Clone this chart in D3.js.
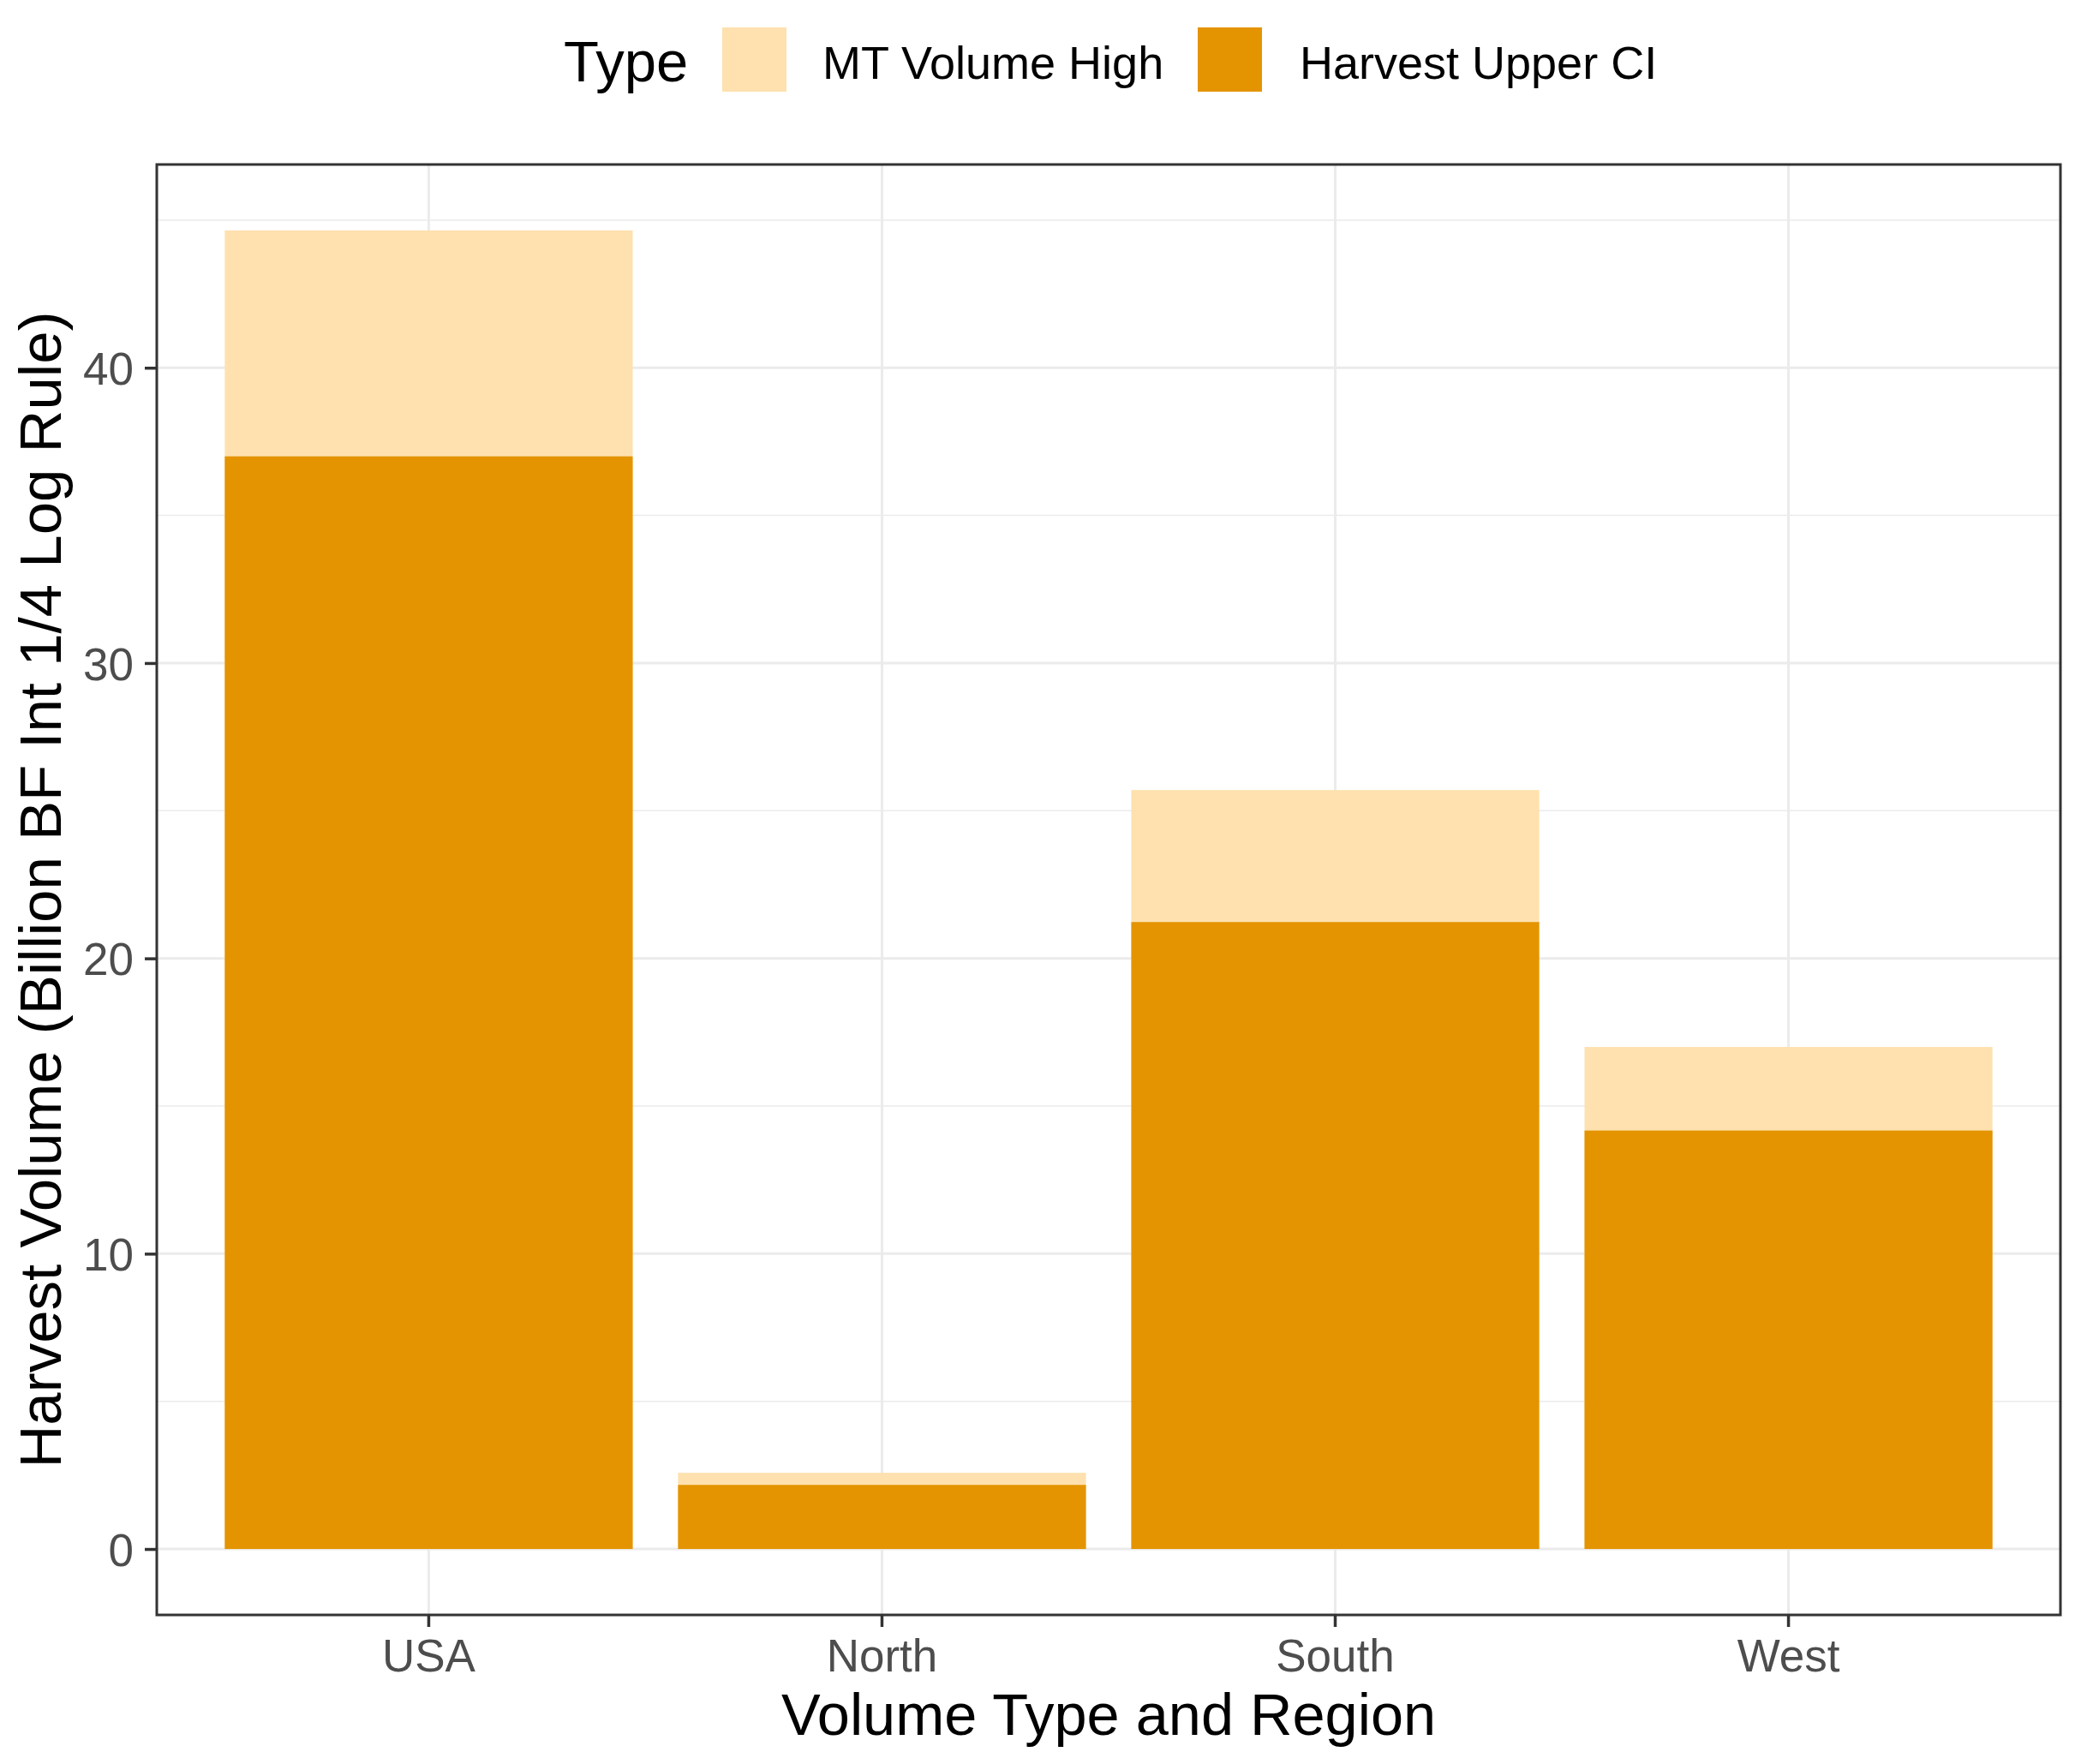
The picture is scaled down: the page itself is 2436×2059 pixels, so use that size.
<!DOCTYPE html>
<html>
<head>
<meta charset="utf-8">
<script src="https://cdn.jsdelivr.net/npm/d3@7"></script>
<style>
  html, body { margin: 0; padding: 0; background: #fff; }
  svg { display: block; font-family: "Liberation Sans", Arial, sans-serif; }
</style>
</head>
<body>
<svg id="chart" width="2436" height="2059"></svg>
<script>
// ---- data ----
const categories = ["USA", "North", "South", "West"];
const mtVolumeHigh = [44.65, 2.58, 25.7, 17.0];
const harvestUpperCI = [37.0, 2.17, 21.23, 14.17];
const seriesNames = ["MT Volume High", "Harvest Upper CI"];
const seriesColors = ["#FEE1AF", "#E49400"];
const yTicks = [0, 10, 20, 30, 40];
const yMinorTicks = [5, 15, 25, 35, 45];

// ---- layout ----
const W = 2436, H = 2059;
const panel = { left: 183, right: 2405, top: 192, bottom: 1885 };

const svg = d3.select("#chart");
svg.append("rect").attr("width", W).attr("height", H).attr("fill", "#fff");

const x = d3.scaleBand()
  .domain(categories)
  .range([panel.left, panel.right])
  .paddingInner(0.1)
  .paddingOuter(0.15);

const yMax = d3.max(mtVolumeHigh);
const expand = yMax * 0.05;
const y = d3.scaleLinear()
  .domain([-expand, yMax + expand])
  .range([panel.bottom, panel.top]);

// panel background
svg.append("rect")
  .attr("x", panel.left).attr("y", panel.top)
  .attr("width", panel.right - panel.left)
  .attr("height", panel.bottom - panel.top)
  .attr("fill", "#fff");

const grid = svg.append("g");
// minor horizontal grid
grid.selectAll(".minor").data(yMinorTicks.filter(v => y(v) > panel.top)).enter()
  .append("line")
  .attr("x1", panel.left).attr("x2", panel.right)
  .attr("y1", d => y(d)).attr("y2", d => y(d))
  .attr("stroke", "#EBEBEB").attr("stroke-width", 1.5);
// major horizontal grid
grid.selectAll(".major").data(yTicks).enter()
  .append("line")
  .attr("x1", panel.left).attr("x2", panel.right)
  .attr("y1", d => y(d)).attr("y2", d => y(d))
  .attr("stroke", "#EBEBEB").attr("stroke-width", 3);
// vertical grid at categories
grid.selectAll(".vx").data(categories).enter()
  .append("line")
  .attr("x1", d => x(d) + x.bandwidth() / 2).attr("x2", d => x(d) + x.bandwidth() / 2)
  .attr("y1", panel.top).attr("y2", panel.bottom)
  .attr("stroke", "#EBEBEB").attr("stroke-width", 3);

// bars (overlapping, light behind dark)
const bars = svg.append("g");
[mtVolumeHigh, harvestUpperCI].forEach((vals, si) => {
  bars.selectAll(".s" + si).data(categories).enter()
    .append("rect")
    .attr("x", d => x(d))
    .attr("width", x.bandwidth())
    .attr("y", (d, i) => y(vals[i]))
    .attr("height", (d, i) => y(0) - y(vals[i]))
    .attr("fill", seriesColors[si]);
});

// panel border
svg.append("rect")
  .attr("x", panel.left).attr("y", panel.top)
  .attr("width", panel.right - panel.left)
  .attr("height", panel.bottom - panel.top)
  .attr("fill", "none").attr("stroke", "#333333").attr("stroke-width", 3);

// axes
const yAxis = svg.append("g")
  .attr("transform", `translate(${panel.left},0)`)
  .call(d3.axisLeft(y).tickValues(yTicks).tickSize(14).tickPadding(13).tickFormat(d3.format("d")));
yAxis.select(".domain").remove();
yAxis.selectAll(".tick line").attr("stroke", "#333333").attr("stroke-width", 3.5);
yAxis.selectAll(".tick text")
  .attr("fill", "#4D4D4D").attr("font-size", 53)
  .attr("font-family", "Liberation Sans, Arial, sans-serif")
  .attr("dy", "0.36em");

const xAxis = svg.append("g")
  .attr("transform", `translate(0,${panel.bottom})`)
  .call(d3.axisBottom(x).tickSize(14).tickPadding(10));
xAxis.select(".domain").remove();
xAxis.selectAll(".tick line").attr("stroke", "#333333").attr("stroke-width", 3.5);
xAxis.selectAll(".tick text")
  .attr("fill", "#4D4D4D").attr("font-size", 53)
  .attr("font-family", "Liberation Sans, Arial, sans-serif")
  .attr("y", 66).attr("dy", 0);

// axis titles
svg.append("text")
  .attr("x", (panel.left + panel.right) / 2).attr("y", 2025)
  .attr("text-anchor", "middle").attr("font-size", 68.5).attr("fill", "#000")
  .text("Volume Type and Region");
svg.append("text")
  .attr("transform", `translate(71,${(panel.top + panel.bottom) / 2}) rotate(-90)`)
  .attr("text-anchor", "middle").attr("font-size", 69).attr("fill", "#000")
  .text("Harvest Volume (Billion BF Int 1/4 Log Rule)");

// legend
const legend = svg.append("g");
legend.append("text").attr("x", 658).attr("y", 95)
  .attr("font-size", 67).attr("fill", "#000").text("Type");
const keyX = [843, 1398];
const labX = [960, 1517];
seriesNames.forEach((name, i) => {
  legend.append("rect").attr("x", keyX[i]).attr("y", 32)
    .attr("width", 75).attr("height", 75).attr("fill", seriesColors[i]);
  legend.append("text").attr("x", labX[i]).attr("y", 92)
    .attr("font-size", 54).attr("fill", "#000").text(name);
});
</script>
</body>
</html>
